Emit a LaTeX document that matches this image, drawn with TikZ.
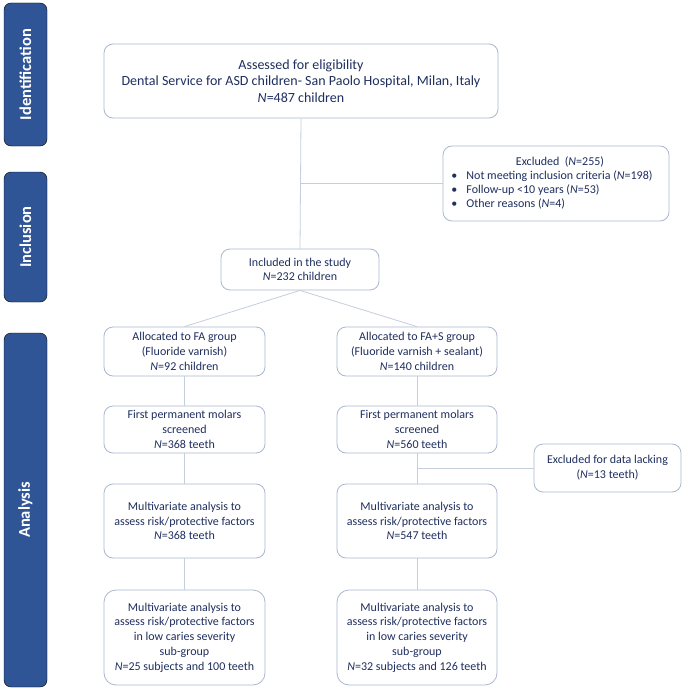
\documentclass[tikz,border=0pt]{standalone}
\usepackage{fontspec}
\setmainfont{Carlito}
\definecolor{navy}{HTML}{1F2F5F}
\definecolor{bar}{HTML}{2F5597}
\definecolor{boxline}{HTML}{A9B7CF}
\definecolor{conn}{HTML}{C5CEDD}
\begin{document}
\begin{tikzpicture}[x=1pt,y=-1pt,
  box/.style={draw=boxline,line width=0.8pt,rounded corners=9pt,fill=white,text=navy,align=center,inner sep=2pt,font=\fontsize{12}{14.7}\selectfont},
  bigbox/.style={box,font=\fontsize{14}{16.7}\selectfont},
  sidebar/.style={fill=bar,rounded corners=7pt},
  sidetext/.style={rotate=90,text=white,font=\fontsize{16.5}{18}\selectfont\bfseries},
  link/.style={draw=conn,line width=0.8pt}]
\useasboundingbox (0,0) rectangle (685,690);
\fill[white] (0,0) rectangle (685,690);
% sidebars
\draw[sidebar] (4,3) rectangle (47,146);
\node[sidetext] (sid) at (25.5,74.5) {Identification};
\draw[sidebar] (4,172) rectangle (47,302);
\node[sidetext] (sin) at (25.5,237) {Inclusion};
\draw[sidebar] (4,333) rectangle (47,687);
\node[sidetext] (san) at (25.5,510) {Analysis};
% boxes
\node[bigbox,minimum width=394pt,minimum height=74pt] (top) at (301,81) {Assessed for eligibility\\Dental Service for ASD children- San Paolo Hospital, Milan, Italy\\\textit{N}=487 children};
\node[box,minimum width=226pt,minimum height=75pt] (excl) at (556,183.5) {\begin{tabular}{@{}l@{}}\multicolumn{1}{@{}c@{}}{\hspace{16pt}Excluded\ \ (\textit{N}=255)}\\[-0.6pt]
\textbullet\hspace{9pt}Not meeting inclusion criteria (\textit{N}=198)\\[-0.6pt]
\textbullet\hspace{9pt}Follow-up {<}10 years (\textit{N}=53)\\[-0.6pt]
\textbullet\hspace{9pt}Other reasons (\textit{N}=4)\end{tabular}\hspace{8pt}};
\node[box,minimum width=158pt,minimum height=41pt] (incl) at (300,269.5) {Included in the study\\\textit{N}=232 children};
\node[box,minimum width=161pt,minimum height=49pt] (fa) at (184.5,351.5) {Allocated to FA group\\(Fluoride varnish)\\\textit{N}=92 children};
\node[box,minimum width=160pt,minimum height=49pt] (fas) at (417,351.5) {Allocated to FA+S group\\(Fluoride varnish + sealant)\\\textit{N}=140 children};
\node[box,minimum width=161pt,minimum height=47pt] (scra) at (184.5,429.5) {First permanent molars\\screened\\\textit{N}=368 teeth};
\node[box,minimum width=160pt,minimum height=47pt] (scrb) at (417,429.5) {First permanent molars\\screened\\\textit{N}=560 teeth};
\node[box,minimum width=147pt,minimum height=48pt] (excl2) at (607.5,468) {Excluded for data lacking\\(\textit{N}=13 teeth)};
\node[box,minimum width=161pt,minimum height=74pt] (mva) at (184.5,521) {Multivariate analysis to\\assess risk/protective factors\\\textit{N}=368 teeth};
\node[box,minimum width=160pt,minimum height=74pt] (mvb) at (417,521) {Multivariate analysis to\\assess risk/protective factors\\\textit{N}=547 teeth};
\node[box,minimum width=161pt,minimum height=95pt,rounded corners=12pt] (suba) at (184.5,637.5) {Multivariate analysis to\\assess risk/protective factors\\in low caries severity\\sub-group\\\textit{N}=25 subjects and 100 teeth};
\node[box,minimum width=160pt,minimum height=95pt,rounded corners=12pt] (subb) at (417,637.5) {Multivariate analysis to\\assess risk/protective factors\\in low caries severity\\sub-group\\\textit{N}=32 subjects and 126 teeth};
% connectors
\draw[link] (top.south) -- (incl.north);
\coordinate (br1) at (top.south |- excl.west);
\draw[link] (br1) -- (excl.west);
\draw[link] (incl.south) -- (fa.north);
\draw[link] (incl.south) -- (fas.north);
\draw[link] (fa) -- (scra);
\draw[link] (scra) -- (mva);
\draw[link] (mva) -- (suba);
\draw[link] (fas) -- (scrb);
\draw[link] (scrb) -- (mvb);
\draw[link] (mvb) -- (subb);
\coordinate (br2) at (scrb.south |- excl2.west);
\draw[link] (br2) -- (excl2.west);
\end{tikzpicture}
\end{document}
